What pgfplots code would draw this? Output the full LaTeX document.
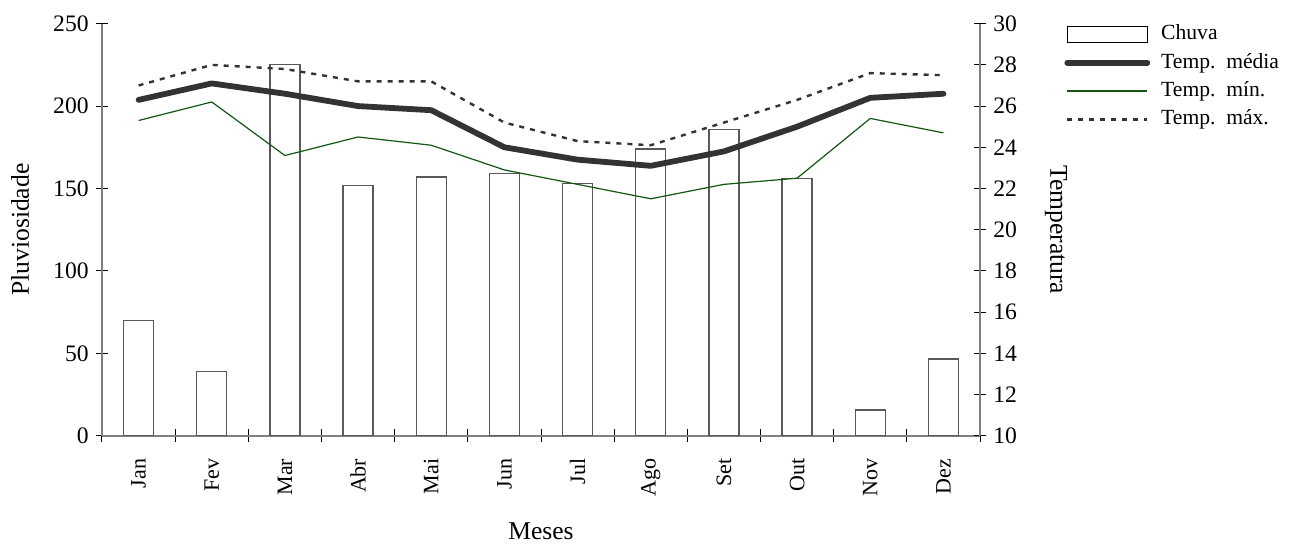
\documentclass[border=0pt]{standalone}
\usepackage{fontspec}
\setmainfont{Liberation Serif}
\usepackage{pgfplots}
\pgfplotsset{compat=1.18}
\definecolor{mingreen}{RGB}{20,85,20}
\definecolor{darkline}{RGB}{51,51,51}
\begin{document}
\begin{tikzpicture}
\begin{axis}[
  name=ax,
  scale only axis, width=439pt, height=206pt,
  xmin=-0.5, xmax=11.5, ymin=0, ymax=250,
  axis x line*=bottom, axis y line*=left,
  axis line style={gray, line width=0.9pt, -},
  xtick={-0.5,0.5,...,11.5}, xticklabels={},
  extra x ticks={0,1,...,11},
  extra x tick labels={Jan,Fev,Mar,Abr,Mai,Jun,Jul,Ago,Set,Out,Nov,Dez},
  extra x tick style={major tick length=0pt},
  ytick={0,50,...,250},
  major tick length=6.3pt,
  tick align=center,
  tick style={black, line width=0.5pt},
  xticklabel style={rotate=90, anchor=east, xshift=-8pt, font=\fontsize{11}{13}\selectfont},
  yticklabel style={font=\fontsize{11.8}{14}\selectfont},
  /pgf/number format/assume math mode=true,
  ylabel={Pluviosidade}, xlabel={Meses},
  ylabel style={at={(axis description cs:0,0.5)}, anchor=center, yshift=41pt, font=\fontsize{12.8}{15}\selectfont},
  xlabel style={at={(axis description cs:0.5,0)}, anchor=base, inner sep=0pt, yshift=-52pt, font=\fontsize{12.8}{15}\selectfont},
]
\addplot[ybar, bar width=15pt, fill=white, draw=black!65, line width=0.6pt] coordinates {
  (0,70) (1,39) (2,225) (3,152) (4,157) (5,159) (6,153) (7,174) (8,186) (9,156) (10,15.6) (11,46.5)};
\end{axis}
\begin{axis}[
  scale only axis, width=439pt, height=206pt,
  xmin=-0.5, xmax=11.5, ymin=10, ymax=30,
  axis x line=none, axis y line*=right,
  axis line style={gray, line width=0.9pt, -},
  ytick={10,12,...,30},
  major tick length=6.3pt,
  tick align=center,
  tick style={black, line width=0.5pt},
  yticklabel style={font=\fontsize{11.8}{14}\selectfont},
  /pgf/number format/assume math mode=true,
  ylabel={Temperatura},
  ylabel style={at={(axis description cs:1,0.5)}, anchor=center, yshift=-38pt, rotate=180, font=\fontsize{12.8}{15}\selectfont},
  legend image code/.code={\draw[#1] (0pt,0pt) -- (40pt,0pt);},
  legend cell align=left,
  legend style={at={(1,1)}, anchor=north west, xshift=42pt, yshift=0pt,
    draw=none, fill=none, inner sep=0pt, row sep=4pt, column sep=5.5pt,
    font=\fontsize{10.8}{13}\selectfont,
    nodes={inner sep=0pt, text height=7.8pt, text depth=2.4pt}},
]
\addlegendimage{legend image code/.code={\draw[black, line width=0.6pt, fill=white] (0pt,-4pt) rectangle (40pt,4pt);}}
\addlegendentry{Chuva}
\addplot[darkline, line width=2.9pt, line join=round, line cap=round] coordinates {
  (0,26.3) (1,27.1) (2,26.6) (3,26.0) (4,25.8) (5,24.0) (6,23.4) (7,23.1) (8,23.8) (9,25.0) (10,26.4) (11,26.6)};
\addlegendentry{Temp.\ \ média}
\addplot[mingreen, line width=0.6pt] coordinates {
  (0,25.3) (1,26.2) (2,23.6) (3,24.5) (4,24.1) (5,22.9) (6,22.2) (7,21.5) (8,22.2) (9,22.5) (10,25.4) (11,24.7)};
\addlegendentry{Temp.\ \ mín.}
\addplot[darkline, line width=1.2pt, dash pattern=on 2.5pt off 3pt] coordinates {
  (0,27.0) (1,28.0) (2,27.8) (3,27.2) (4,27.2) (5,25.2) (6,24.3) (7,24.1) (8,25.2) (9,26.3) (10,27.6) (11,27.5)};
\addlegendentry{Temp.\ \ máx.}
\end{axis}
\pgfresetboundingbox
\path[use as bounding box] ([xshift=-51pt,yshift=-54pt]ax.south west) rectangle ([xshift=156pt,yshift=11.85pt]ax.north east);
\end{tikzpicture}
\end{document}
